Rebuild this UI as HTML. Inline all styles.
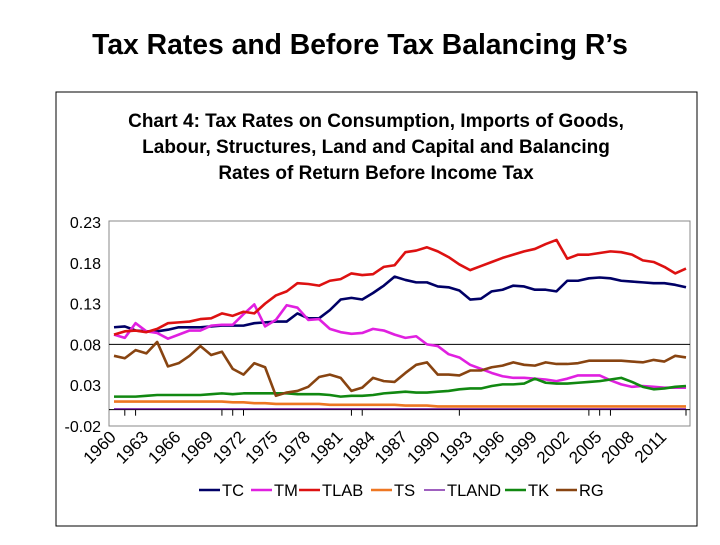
<!DOCTYPE html>
<html><head><meta charset="utf-8"><style>
body{margin:0;background:#fff;width:720px;height:540px;overflow:hidden;font-family:"Liberation Sans",Arial,sans-serif}
</style></head><body>
<svg width="720" height="540" xmlns="http://www.w3.org/2000/svg" font-family="Liberation Sans, Arial, sans-serif">
<text x="360" y="54" text-anchor="middle" font-size="28.3" font-weight="bold" fill="#000">Tax Rates and Before Tax Balancing R’s</text>
<rect x="56" y="92" width="641" height="434" fill="none" stroke="#000" stroke-width="1"/>
<g font-size="19" font-weight="bold" text-anchor="middle" fill="#000">
<text x="376" y="127">Chart 4: Tax Rates on Consumption, Imports of Goods,</text>
<text x="376" y="153">Labour, Structures, Land and Capital and Balancing</text>
<text x="376" y="179">Rates of Return Before Income Tax</text>
</g>
<rect x="109" y="221" width="581" height="205" fill="none" stroke="#888" stroke-width="1"/>
<g id="chart"></g>
<g id="legend" font-size="16.5"></g>
</svg>
<script>
const years=[];for(let y=1960;y<=2013;y++)years.push(y);
const yTicks=[0.23,0.18,0.13,0.08,0.03,-0.02];
const xLabels=[1960,1963,1966,1969,1972,1975,1978,1981,1984,1987,1990,1993,1996,1999,2002,2005,2008,2011];
const tickYears=[1961,1962,1970,1971,1972,1982,1983,1992,2004,2005,2006,2013];
const TC=[0.101,0.102,0.097,0.096,0.096,0.098,0.101,0.101,0.101,0.102,0.103,0.103,0.103,0.106,0.107,0.108,0.108,0.118,0.112,0.112,0.122,0.135,0.137,0.135,0.143,0.152,0.163,0.159,0.156,0.156,0.151,0.150,0.146,0.135,0.136,0.145,0.147,0.152,0.151,0.147,0.147,0.145,0.158,0.158,0.161,0.162,0.161,0.158,0.157,0.156,0.155,0.155,0.153,0.150];
const TM=[0.092,0.088,0.106,0.096,0.094,0.087,0.092,0.097,0.097,0.103,0.104,0.104,0.117,0.129,0.102,0.110,0.128,0.125,0.110,0.111,0.099,0.095,0.093,0.094,0.099,0.097,0.092,0.088,0.090,0.080,0.078,0.068,0.064,0.055,0.050,0.045,0.041,0.039,0.039,0.038,0.037,0.035,0.038,0.042,0.042,0.042,0.036,0.031,0.028,0.029,0.028,0.027,0.027,0.027];
const TLAB=[0.092,0.096,0.097,0.095,0.099,0.106,0.107,0.108,0.111,0.112,0.118,0.115,0.120,0.118,0.130,0.140,0.145,0.155,0.154,0.152,0.158,0.160,0.167,0.165,0.166,0.175,0.177,0.193,0.195,0.199,0.194,0.187,0.178,0.171,0.176,0.181,0.186,0.190,0.194,0.197,0.203,0.208,0.185,0.190,0.190,0.192,0.194,0.193,0.190,0.183,0.181,0.175,0.167,0.173];
const TS=[0.010,0.010,0.010,0.010,0.010,0.010,0.010,0.010,0.010,0.010,0.010,0.009,0.009,0.008,0.008,0.007,0.007,0.007,0.007,0.007,0.006,0.006,0.006,0.006,0.006,0.006,0.006,0.005,0.005,0.005,0.004,0.004,0.004,0.004,0.004,0.004,0.004,0.004,0.004,0.004,0.004,0.004,0.004,0.004,0.004,0.004,0.004,0.004,0.004,0.004,0.004,0.004,0.004,0.004];
const TLAND=[0.001,0.001,0.001,0.001,0.001,0.001,0.001,0.001,0.001,0.001,0.001,0.001,0.001,0.001,0.001,0.001,0.001,0.001,0.001,0.001,0.001,0.001,0.001,0.001,0.001,0.001,0.001,0.001,0.001,0.001,0.001,0.001,0.001,0.001,0.001,0.001,0.001,0.001,0.001,0.001,0.001,0.001,0.001,0.001,0.001,0.001,0.001,0.001,0.001,0.001,0.001,0.001,0.001,0.001];
const TK=[0.016,0.016,0.016,0.017,0.018,0.018,0.018,0.018,0.018,0.019,0.020,0.019,0.020,0.020,0.020,0.020,0.020,0.019,0.019,0.019,0.018,0.016,0.017,0.017,0.018,0.020,0.021,0.022,0.021,0.021,0.022,0.023,0.025,0.026,0.026,0.029,0.031,0.031,0.032,0.038,0.033,0.032,0.032,0.033,0.034,0.035,0.037,0.039,0.034,0.028,0.025,0.026,0.028,0.029];
const RG=[0.066,0.063,0.073,0.069,0.083,0.053,0.057,0.066,0.078,0.067,0.071,0.050,0.043,0.057,0.052,0.017,0.021,0.023,0.028,0.040,0.043,0.039,0.023,0.027,0.039,0.035,0.034,0.045,0.055,0.058,0.043,0.043,0.042,0.048,0.048,0.052,0.054,0.058,0.055,0.054,0.058,0.056,0.056,0.057,0.060,0.060,0.060,0.060,0.059,0.058,0.061,0.059,0.066,0.064];
const seriesNames=["TC","TM","TLAB","TS","TLAND","TK","RG"];
const seriesData=[TC,TM,TLAB,TS,TLAND,TK,RG];
const colors=["#000066","#e020e0","#dd1111","#ee7722","#660099","#118811","#884411"];
const NS="http://www.w3.org/2000/svg";
const x0=114,x1=686,yTop=222,yBot=426,vTop=0.23,vBot=-0.02;
const X=y=>x0+(y-years[0])*(x1-x0)/(years[years.length-1]-years[0]);
const Y=v=>yTop+(vTop-v)*(yBot-yTop)/(vTop-vBot);
const g=document.getElementById('chart');
function mk(t,a){const e=document.createElementNS(NS,t);for(const k in a)e.setAttribute(k,a[k]);return e;}
yTicks.forEach(v=>{const t=mk('text',{x:101,y:Y(v)+6,'text-anchor':'end','font-size':16,fill:'#000'});t.textContent=v.toFixed(2);


g.appendChild(t);});
const ref=mk('line',{x1:109,x2:690,y1:Y(0.08),y2:Y(0.08),stroke:'#000','stroke-width':1});


g.appendChild(ref);
const ax=mk('line',{x1:109,x2:690,y1:Y(0),y2:Y(0),stroke:'#000','stroke-width':1});


g.appendChild(ax);
tickYears.forEach(yr=>{const l=mk('line',{x1:X(yr),x2:X(yr),y1:Y(0),y2:Y(0)+6,stroke:'#000','stroke-width':1});


g.appendChild(l);});
seriesData.forEach((d,i)=>{const p=mk('polyline',{points:d.map((v,j)=>X(years[j])+','+Y(v)).join(' '),fill:'none',stroke:colors[i],'stroke-width':i==4?1.2:2.6,'stroke-linejoin':'round'});


g.appendChild(p);});
xLabels.forEach(yr=>{const xx=X(yr)+3,yy=438;const t=mk('text',{x:xx,y:yy,'text-anchor':'end','font-size':17,fill:'#000',transform:`rotate(-45 ${xx} ${yy})`});t.textContent=yr;


g.appendChild(t);});
const lg=document.getElementById('legend');
const lx=[199,251,299,371,424,505,556];
seriesNames.forEach((n,i)=>{const e=mk('g',{});


e.appendChild(mk('line',{x1:lx[i],x2:lx[i]+21,y1:490,y2:490,stroke:colors[i],'stroke-width':i==4?1.2:2.6}));
const t=mk('text',{x:lx[i]+23,y:496,fill:'#000'});t.textContent=n;e.appendChild(t);lg.appendChild(e);});
</script>
</body></html>
